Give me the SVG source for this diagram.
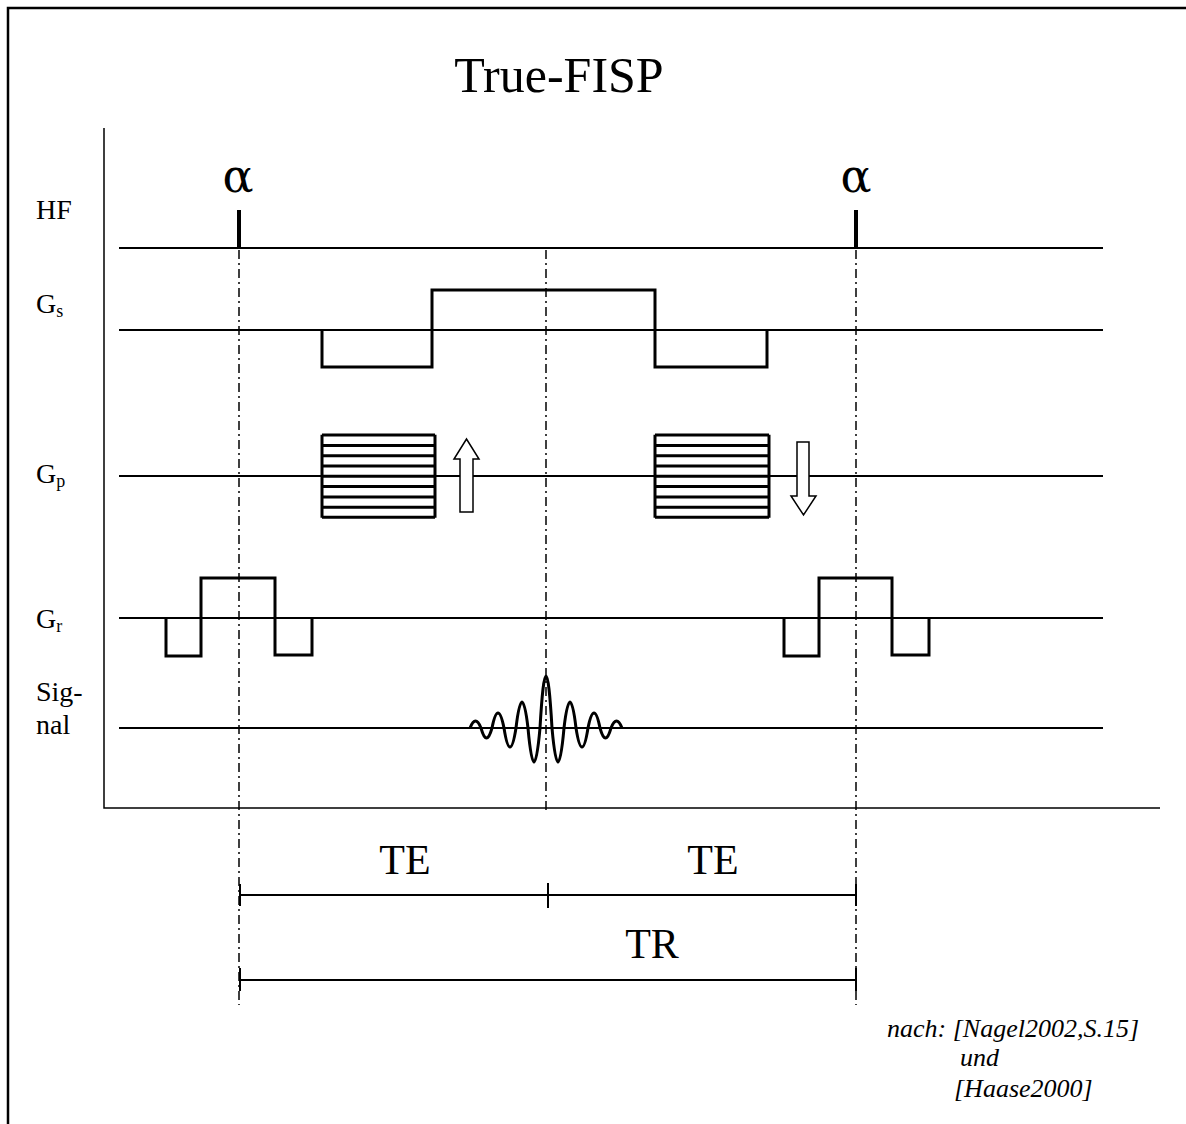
<svg xmlns="http://www.w3.org/2000/svg" width="1186" height="1124" viewBox="0 0 1186 1124">
<style>
text{font-family:"Liberation Serif","Times New Roman",serif;fill:#000}
.lbl{font-size:28px}
.sub{font-size:18px}
.alpha{font-family:"DejaVu Serif","Liberation Serif",serif;font-size:46px}
.base{stroke:#000;stroke-width:2;fill:none}
.wave{stroke:#000;stroke-width:3;fill:none;stroke-linejoin:miter}
.dd{stroke:#000;stroke-width:1.5;stroke-dasharray:9 4 2 4;fill:none}
.hatch{stroke:#000;stroke-width:3}
.arrow{fill:#fff;stroke:#000;stroke-width:1.5}
.dim{stroke:#000;stroke-width:2;fill:none}
.cite{font-size:26px;font-style:italic}
</style>
<rect width="1186" height="1124" fill="#fff"/>
<path d="M8 1124 V8 H1186" fill="none" stroke="#000" stroke-width="2.5"/>
<text x="559" y="92" font-size="50" text-anchor="middle">True-FISP</text>

<g id="axes">
<path d="M104 128 V808 H1160" fill="none" stroke="#000" stroke-width="1.5"/>
</g>

<g id="labels">
<text class="lbl" x="36" y="219">HF</text>
<text class="lbl" x="36" y="313">G<tspan class="sub" dy="4">s</tspan></text>
<text class="lbl" x="36" y="483">G<tspan class="sub" dy="4">p</tspan></text>
<text class="lbl" x="36" y="628">G<tspan class="sub" dy="4">r</tspan></text>
<text class="lbl" x="36" y="701">Sig-</text>
<text class="lbl" x="36" y="734">nal</text>
</g>

<g id="HF">
<line class="base" x1="119" y1="248" x2="1103" y2="248"/>
<line x1="239" y1="210" x2="239" y2="248" stroke="#000" stroke-width="4"/>
<line x1="856" y1="210" x2="856" y2="248" stroke="#000" stroke-width="4"/>
<text class="alpha" x="238" y="192" text-anchor="middle">α</text>
<text class="alpha" x="856" y="192" text-anchor="middle">α</text>
</g>

<g id="Gs">
<line class="base" x1="119" y1="330" x2="1103" y2="330"/>
<path class="wave" d="M322 330 V367 H432 V290 H655 V367 H767 V330"/>
</g>

<g id="Gp">
<line class="base" x1="119" y1="476" x2="1103" y2="476"/>
<g id="gp-block1">
<path class="hatch" d="M322 434.7 V517.7 M435 434.7 V517.7 M322 435 H435 M322 445.4 H435 M322 455.7 H435 M322 466 H435 M322 476.3 H435 M322 486.6 H435 M322 497 H435 M322 507.3 H435 M322 517.3 H435"/>
<path class="arrow" d="M460 512 V459 H454 L466.5 439 L479 459 H473 V512 Z"/>
</g>
<g id="gp-block2">
<path class="hatch" d="M655 434.7 V517.7 M769 434.7 V517.7 M655 435 H769 M655 445.4 H769 M655 455.7 H769 M655 466 H769 M655 476.3 H769 M655 486.6 H769 M655 497 H769 M655 507.3 H769 M655 517.3 H769"/>
<path class="arrow" d="M797 442 V496 H791 L803.5 515 L816 496 H809 V442 Z"/>
</g>
</g>

<g id="Gr">
<line class="base" x1="119" y1="618" x2="1103" y2="618"/>
<path class="wave" d="M166 618 V656 H201 V578 H275 V655 H312 V618"/>
<path class="wave" d="M784 618 V656 H819 V578 H892 V655 H929 V618"/>
</g>

<g id="Signal">
<line class="base" x1="119" y1="728" x2="1103" y2="728"/>
<path class="wave" stroke-width="2.5" d="M470 728 Q475.5 714 481 728 Q486.5 748 492 728 Q498 698 504 728 Q510 766 516 728 Q522 676 528 728 Q534 796 540 728 Q546 624 552 728 Q558 796 564 728 Q570 676 576 728 Q582 766 588 728 Q594 698 600 728 Q605.5 748 611 728 Q616.5 714 622 728"/>
</g>

<g id="connectors">
<line class="dd" x1="239" y1="250" x2="239" y2="1005"/>
<line class="dd" x1="856" y1="250" x2="856" y2="1005"/>
<line class="dd" x1="546" y1="250" x2="546" y2="812"/>
</g>

<g id="TE">
<path class="dim" d="M240 895 H856 M240 884 V906 M548 883 V908 M856 884 V906"/>
<text x="405" y="874" font-size="42" text-anchor="middle">TE</text>
<text x="713" y="874" font-size="42" text-anchor="middle">TE</text>
</g>
<g id="TR">
<path class="dim" d="M240 980 H856 M240 968 V991 M856 968 V991"/>
<text x="652" y="958" font-size="42" text-anchor="middle">TR</text>
</g>

<g id="citation">
<text class="cite" x="887" y="1037">nach: [Nagel2002,S.15]</text>
<text class="cite" x="960" y="1066">und</text>
<text class="cite" x="954" y="1097">[Haase2000]</text>
</g>
</svg>
